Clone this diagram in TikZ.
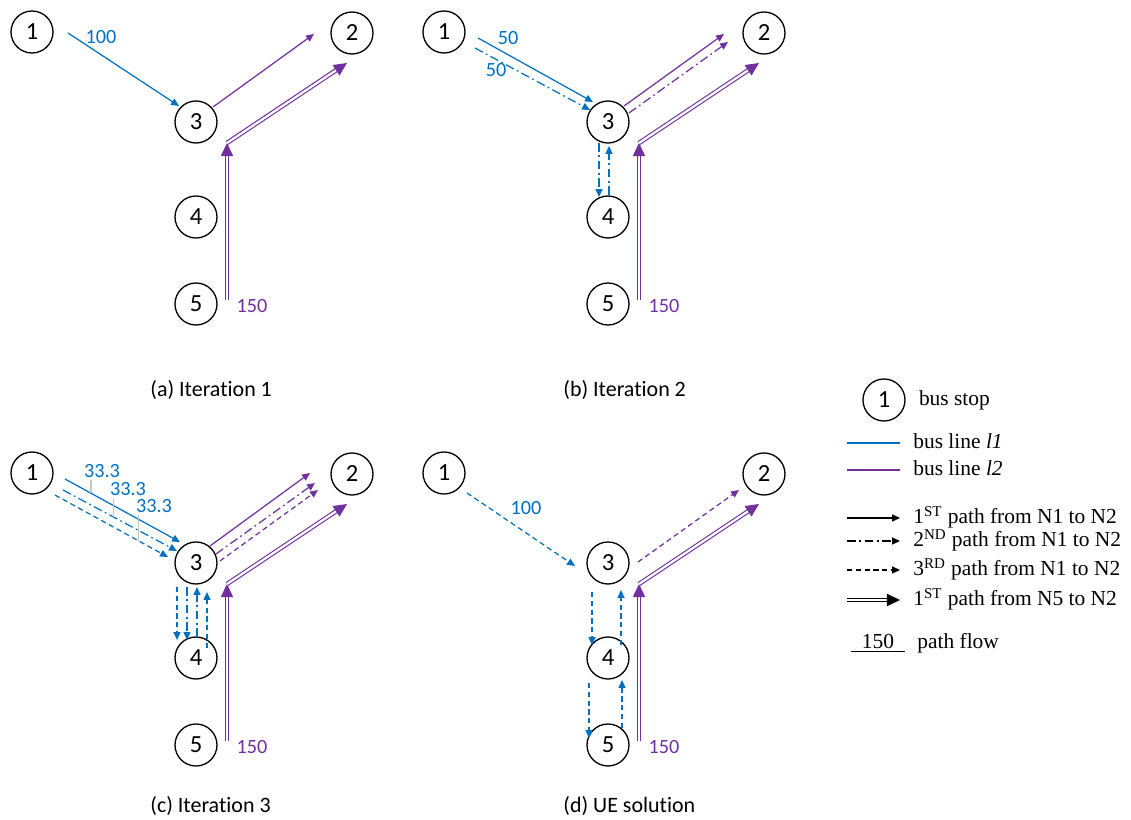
\documentclass[tikz,border=0pt]{standalone}
\usepackage{fontspec}
\setmainfont{Liberation Serif}
\newfontfamily\calibri[Ligatures=NoCommon]{Carlito}
\usepackage{tikz}
\usetikzlibrary{arrows.meta, positioning}
\definecolor{lineblue}{RGB}{0,112,192}
\definecolor{linepurple}{RGB}{112,48,160}

\begin{document}
\begin{tikzpicture}[
    x=0.2mm, y=-0.2mm,
    stop/.style={circle, draw, line width=0.75pt, minimum size=8.4mm, inner sep=0pt, font=\calibri\fontsize{14}{16}\selectfont},
    flow/.style={font=\calibri\fontsize{11.5}{13}\selectfont, inner sep=1pt},
    caption/.style={anchor=west, inner sep=0pt, font=\calibri\fontsize{12.5}{15}\selectfont},
    legend/.style={anchor=west, inner sep=0pt, text height=8.5pt, text depth=2pt, font=\fontsize{12.2}{14}\selectfont},
    arrow/.style={-{Triangle[length=4.5pt, width=4pt]}, line width=0.7pt},
    dbl/.style={double, double distance=1.3pt, line width=0.65pt, -{Triangle[length=7.5pt, width=7pt]}},
    pathtwo/.style={dash pattern=on 5pt off 2pt on 1pt off 2pt},
    paththree/.style={dash pattern=on 3pt off 2pt},
    leader/.style={draw=gray!45, line width=0.6pt}
]
    \useasboundingbox (0,0) rectangle (1131,820);

    % Bus stops and line l2 from N5 in every panel
    \foreach \p/\dx/\dy in {a/0/0, b/412/0, c/0/441, d/412/441} {
        \node[stop] (\p1) at (32+\dx, 32+\dy) {1};
        \node[stop] (\p2) at (352+\dx, 33+\dy) {2};
        \node[stop] (\p3) at (196+\dx, 122+\dy) {3};
        \node[stop] (\p4) at (196+\dx, 217+\dy) {4};
        \node[stop] (\p5) at (196+\dx, 304+\dy) {5};
        \coordinate (\p-k) at ([shift={(31,21)}]\p3.center);
        \draw[dbl, linepurple] ([shift={(31,-4)}]\p5.center) -- (\p-k);
        \draw[dbl, linepurple] (\p-k) -- ([shift={(-5,30)}]\p2.center);
        \node[flow, text=linepurple] (\p-f) at ([shift={(56,2)}]\p5.center) {150};
    }

    % (a) Iteration 1
    \draw[arrow, lineblue] ([shift={(36,1)}]a1.center) -- ([shift={(-17,-16)}]a3.center);
    \draw[arrow, linepurple] ([shift={(17,-15)}]a3.center) -- ([shift={(-38,1)}]a2.center);
    \node[flow, text=lineblue] (af1) at (101,37) {100};
    \node[caption] (acap) at (150,390) {(a) Iteration 1};

    % (b) Iteration 2
    \draw[arrow, lineblue] ([shift={(34,6)}]b1.center) -- ([shift={(-15,-20)}]b3.center);
    \draw[arrow, pathtwo, lineblue] ([shift={(31,16)}]b1.center) -- ([shift={(-18,-12)}]b3.center);
    \draw[arrow, linepurple] ([shift={(16,-16)}]b3.center) -- ([shift={(-40,1)}]b2.center);
    \draw[arrow, pathtwo, linepurple] ([shift={(21,-9)}]b3.center) -- ([shift={(-36,9)}]b2.center);
    \draw[arrow, pathtwo, lineblue] ([shift={(-9,21)}]b3.center) -- ([shift={(-9,-20)}]b4.center);
    \draw[arrow, pathtwo, lineblue] ([shift={(1,-22)}]b4.center) -- ([shift={(1,24)}]b3.center);
    \node[flow, text=lineblue] (bf1) at (508,38) {50};
    \node[flow, text=lineblue] (bf2) at (496,70) {50};
    \node[caption] (bcap) at (563,390) {(b) Iteration 2};

    % (c) Iteration 3
    \draw[arrow, lineblue] ([shift={(33,6)}]c1.center) -- coordinate[pos=0.226] (cl1) ([shift={(-16,-21)}]c3.center);
    \draw[arrow, pathtwo, lineblue] ([shift={(31,17)}]c1.center) -- coordinate[pos=0.439] (cl2) ([shift={(-19,-12)}]c3.center);
    \draw[arrow, paththree, lineblue] ([shift={(23,22)}]c1.center) -- coordinate[pos=0.735] (cl3) ([shift={(-28,-6)}]c3.center);
    \draw[arrow, linepurple] ([shift={(14,-17)}]c3.center) -- ([shift={(-42,-1)}]c2.center);
    \draw[arrow, pathtwo, linepurple] ([shift={(20,-9)}]c3.center) -- ([shift={(-37,9)}]c2.center);
    \draw[arrow, paththree, linepurple] ([shift={(24,-2)}]c3.center) -- ([shift={(-34,16)}]c2.center);
    \draw[arrow, paththree, lineblue] ([shift={(-19,24)}]c3.center) -- ([shift={(-19,-18)}]c4.center);
    \draw[arrow, pathtwo, lineblue] ([shift={(-9,24)}]c3.center) -- ([shift={(-9,-18)}]c4.center);
    \draw[arrow, pathtwo, lineblue] ([shift={(1,-21)}]c4.center) -- ([shift={(1,24)}]c3.center);
    \draw[arrow, paththree, lineblue] ([shift={(11,-10)}]c4.center) -- ([shift={(11,29)}]c3.center);
    \node[flow, text=lineblue] (cf1) at (102,471) {33.3};
    \node[flow, text=lineblue] (cf2) at (128,489) {33.3};
    \node[flow, text=lineblue] (cf3) at (154,506) {33.3};
    \draw[leader] (cl1) -- (cl1 |- cf1.south);
    \draw[leader] (cl2) -- (cl2 |- cf2.south);
    \draw[leader] (cl3) -- (cl3 |- cf3.south);
    \node[caption] (ccap) at (150,806) {(c) Iteration 3};

    % (d) UE solution
    \draw[arrow, paththree, lineblue] ([shift={(23,20)}]d1.center) -- ([shift={(-33,3)}]d3.center);
    \draw[arrow, paththree, linepurple] ([shift={(30,-1)}]d3.center) -- ([shift={(-25,16)}]d2.center);
    \draw[arrow, paththree, lineblue] ([shift={(-16,29)}]d3.center) -- ([shift={(-16,-13)}]d4.center);
    \draw[arrow, paththree, lineblue] ([shift={(13,-13)}]d4.center) -- ([shift={(13,27)}]d3.center);
    \draw[arrow, paththree, lineblue] ([shift={(-19,25)}]d4.center) -- ([shift={(-19,-7)}]d5.center);
    \draw[arrow, paththree, lineblue] ([shift={(14,-17)}]d5.center) -- ([shift={(14,22)}]d4.center);
    \node[flow, text=lineblue] (df1) at (526,508) {100};
    \node[caption] (dcap) at (563,806) {(d) UE solution};

    % Legend
    \node[stop] (k0) at (884,400) {1};
    \node[legend, right=2.6mm of k0] (k0t) {bus stop};
    \node[legend] (k1) at (913,443) {bus line \textit{l1}};
    \node[legend] (k2) at (913,470) {bus line \textit{l2}};
    \node[legend] (k3) at (913,518) {1\textsuperscript{ST} path from N1 to N2};
    \node[legend] (k4) at (913,541) {2\textsuperscript{ND} path from N1 to N2};
    \node[legend] (k5) at (913,570) {3\textsuperscript{RD} path from N1 to N2};
    \node[legend] (k6) at (913,600) {1\textsuperscript{ST} path from N5 to N2};
    \draw[line width=0.7pt, lineblue] ([shift={(-66,0)}]k1.west) -- ([shift={(-13,0)}]k1.west);
    \draw[line width=0.7pt, linepurple] ([shift={(-66,0)}]k2.west) -- ([shift={(-13,0)}]k2.west);
    \draw[arrow] ([shift={(-66,0)}]k3.west) -- ([shift={(-13,0)}]k3.west);
    \draw[arrow, pathtwo] ([shift={(-66,0)}]k4.west) -- ([shift={(-13,0)}]k4.west);
    \draw[arrow, paththree] ([shift={(-66,0)}]k5.west) -- ([shift={(-13,0)}]k5.west);
    \draw[dbl] ([shift={(-66,0)}]k6.west) -- ([shift={(-13,0)}]k6.west);
    \node[legend, anchor=center] (k7n) at (878,643) {150};
    \node[legend] (k7) at (917,643) {path flow};
    \draw[line width=0.7pt] ([shift={(-11,-1)}]k7n.south west) -- ([shift={(11,-1)}]k7n.south east);
\end{tikzpicture}
\end{document}
